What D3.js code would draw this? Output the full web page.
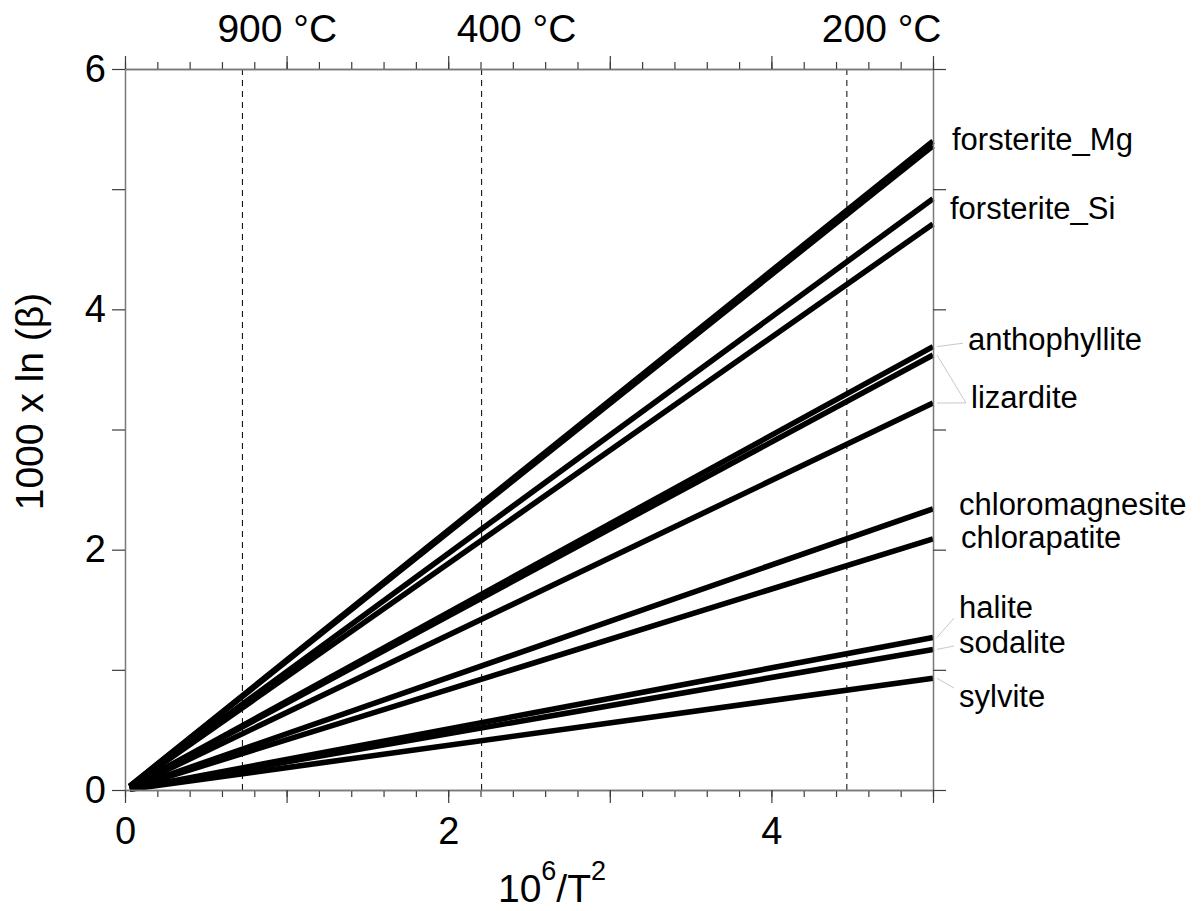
<!DOCTYPE html>
<html>
<head>
<meta charset="utf-8">
<script src="https://cdn.jsdelivr.net/npm/d3@7"></script>
<style>
  body { margin: 0; background: #fff; }
  svg { display: block; font-family: "Liberation Sans", Arial, sans-serif; }
  .axis .domain { stroke: #7a7a7a; stroke-width: 1.5; }
  .axis line { stroke: #3c3c3c; stroke-width: 1.2; }
  .axis text { font-size: 38px; fill: #000; font-family: "Liberation Sans", Arial, sans-serif; }
  .iso-line { fill: none; stroke: #000; stroke-width: 5.6; }
  .temp-line { stroke: #000; stroke-width: 1; stroke-dasharray: 6 5; }
  .temp-label { font-size: 39px; }
  .mineral-label { font-size: 31px; }
  .leader { stroke: #c8c8c8; stroke-width: 1; }
  .axis-title { font-size: 39px; }
</style>
</head>
<body>
<div id="chart"></div>
<script>
// data
const xDomain = [0, 5];
const yDomain = [0, 6];
const xTickLabels = [0, 2, 4];
const yTickLabels = [0, 2, 4, 6];
const lineStart = 0.03;
const endValues = [5.40, 5.36, 4.92, 4.71, 3.69, 3.62, 3.22, 2.34, 2.09, 1.27, 1.17, 0.93];
const tempCelsius = [900, 400, 200];
const tempLabels = ['900 °C', '400 °C', '200 °C'];
const mineralNames = ['forsterite_Mg', 'forsterite_Si', 'anthophyllite', 'lizardite',
  'chloromagnesite', 'chlorapatite', 'halite', 'sodalite', 'sylvite'];
const mineralLabelValues = [5.33, 4.75, 3.66, 3.18, 2.29, 2.01, 1.43, 1.14, 0.69];
// [label index, line index]
const leaders = [[2, 4], [3, 5], [3, 6], [6, 9], [7, 10], [8, 11]];

// layout only
const labelDx = [19, 17, 35, 38, 26, 28, 26, 26, 26];
const leaderDy = [-7, -5, -5, 0, -7, -19];

const width = 1202;
const height = 911;
const margin = { top: 69, right: 269, bottom: 121, left: 125 };
const plotW = width - margin.left - margin.right;
const plotH = height - margin.top - margin.bottom;

const svg = d3.select('#chart')
  .append('svg')
  .attr('width', width)
  .attr('height', height);

const g = svg.append('g')
  .attr('transform', `translate(${margin.left},${margin.top})`);

const x = d3.scaleLinear().domain(xDomain).range([0, plotW]);
const y = d3.scaleLinear().domain(yDomain).range([plotH, 0]);

// temperature guides
const toX = c => 1e6 / Math.pow(c + 273.15, 2);

g.selectAll('.temp-line')
  .data(tempCelsius)
  .enter()
  .append('line')
  .attr('class', 'temp-line')
  .attr('x1', d => x(toX(d)))
  .attr('x2', d => x(toX(d)))
  .attr('y1', 0)
  .attr('y2', plotH);

g.selectAll('.temp-label')
  .data(tempCelsius)
  .enter()
  .append('text')
  .attr('class', 'temp-label')
  .attr('x', d => x(toX(d)) - 25)
  .attr('y', -27)
  .text((d, i) => tempLabels[i]);

// fractionation lines
const line = d3.line().x(d => x(d[0])).y(d => y(d[1]));

g.selectAll('.iso-line')
  .data(endValues)
  .enter()
  .append('path')
  .attr('class', 'iso-line')
  .attr('d', v => line([[lineStart, lineStart * v / xDomain[1]], [xDomain[1], v]]));

// axes
const minorX = x.ticks(25);
const majorX = x.ticks(5);

g.append('g')
  .attr('class', 'axis')
  .attr('transform', `translate(0,${plotH})`)
  .call(d3.axisBottom(x).tickValues(minorX).tickSize(7).tickSizeOuter(0).tickFormat(''));

g.append('g')
  .attr('class', 'axis')
  .attr('transform', `translate(0,${plotH})`)
  .call(d3.axisBottom(x).tickValues(majorX).tickSize(13).tickSizeOuter(0).tickPadding(14)
    .tickFormat(d => (xTickLabels.includes(d) ? d : '')));

g.append('g')
  .attr('class', 'axis')
  .call(d3.axisTop(x).tickValues(minorX).tickSize(7).tickSizeOuter(0).tickFormat(''));

g.append('g')
  .attr('class', 'axis')
  .call(d3.axisTop(x).tickValues(majorX).tickSize(13).tickSizeOuter(0).tickFormat(''));

g.append('g')
  .attr('class', 'axis')
  .call(d3.axisLeft(y).ticks(6).tickSize(13).tickSizeOuter(0).tickPadding(6)
    .tickFormat(d => (yTickLabels.includes(d) ? d : '')));

g.append('g')
  .attr('class', 'axis')
  .attr('transform', `translate(${plotW},0)`)
  .call(d3.axisRight(y).ticks(6).tickSize(13).tickSizeOuter(0).tickFormat(''));

// mineral labels and leaders
const labelX = i => x(xDomain[1]) + labelDx[i];

g.selectAll('.leader')
  .data(leaders)
  .enter()
  .append('line')
  .attr('class', 'leader')
  .attr('x1', x(xDomain[1]) + 4)
  .attr('y1', d => y(endValues[d[1]]))
  .attr('x2', d => labelX(d[0]) - 5)
  .attr('y2', (d, i) => y(mineralLabelValues[d[0]]) + leaderDy[i]);

g.selectAll('.mineral-label')
  .data(mineralNames)
  .enter()
  .append('text')
  .attr('class', 'mineral-label')
  .attr('x', (d, i) => labelX(i))
  .attr('y', (d, i) => y(mineralLabelValues[i]))
  .text(d => d);

// axis titles
const xTitle = svg.append('text')
  .attr('class', 'axis-title')
  .attr('x', 552)
  .attr('y', 902)
  .attr('text-anchor', 'middle');
xTitle.append('tspan').text('10');
xTitle.append('tspan').attr('dy', -22).attr('font-size', 27).text('6');
xTitle.append('tspan').attr('dy', 22).text('/T');
xTitle.append('tspan').attr('dy', -22).attr('font-size', 27).text('2');

svg.append('text')
  .attr('class', 'axis-title')
  .attr('transform', `translate(43,${margin.top + plotH / 2 - 28}) rotate(-90)`)
  .attr('text-anchor', 'middle')
  .text('1000 x ln (β)');
</script>
</body>
</html>
